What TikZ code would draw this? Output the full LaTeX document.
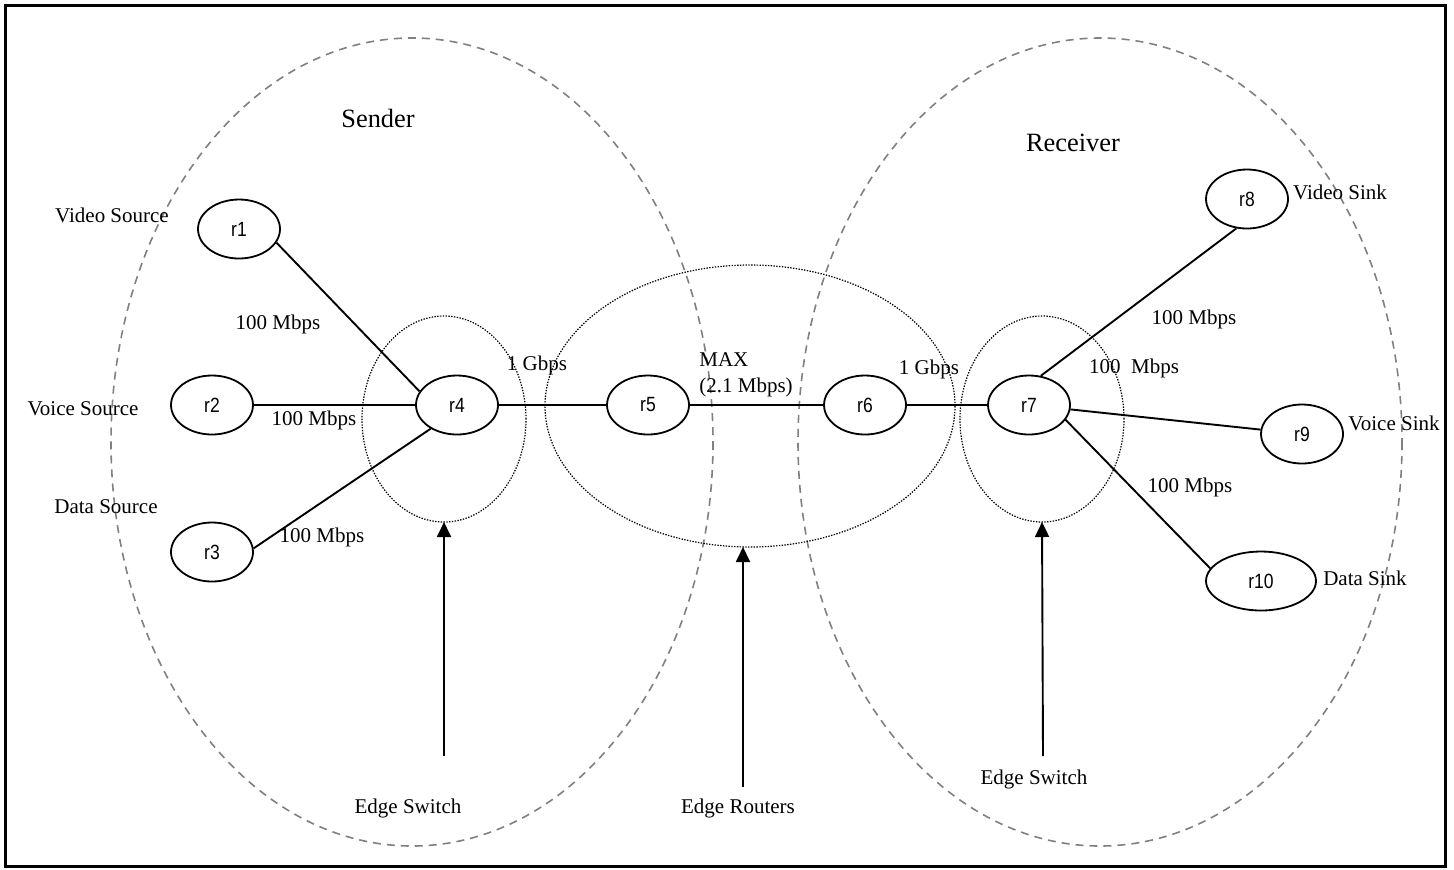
\documentclass[tikz,border=0pt]{standalone}
\usepackage{fontspec}
\setmainfont{Liberation Serif}
\newfontfamily\routerfont[FakeStretch=0.85]{Liberation Sans}
\usetikzlibrary{arrows.meta,shapes.geometric}
\tikzset{
  every picture/.style = {
    x = 0.5pt,
    y = -0.5pt,
    >={Triangle[length=7.5pt,width=7pt]},
  }
  ,
  router/.style = {
    ellipse,
    draw,
    line width = 0.9pt,
    font = \routerfont\fontsize{10.3}{12}\selectfont,
    minimum width = 41pt,
    minimum height = 29.5pt,
    inner sep = 0pt
  }
  , % sender and receiver sides
  side/.style = {
    draw = gray,
    line width = 0.8pt,
    dash pattern = on 4pt off 3pt
  }
  , % switch and router groups
  group/.style = {
    ellipse,
    draw,
    line width = 0.6pt,
    dash pattern = on 0.7pt off 0.7pt,
    minimum width = 82pt,
    minimum height = 103pt,
    outer sep = 0pt
  }
  ,
  link/.style = {
    line width = 0.95pt
  }
  , % labels of links and hosts
  label-link/.style = {
    font = \fontsize{10.5}{13}\selectfont,
    inner sep = 0pt
  }
  , % labels of sides
  label-side/.style = {
    font = \fontsize{13.2}{16}\selectfont,
    inner sep = 0pt
  }
}

\begin{document}
\begin{tikzpicture}
\useasboundingbox (0,0) rectangle (1454,869);
\draw[line width=1.5pt] (5,5) rectangle (1445,866);
\draw[side] (412,442) ellipse [x radius=301, y radius=404];
\draw[side] (1100,442) ellipse [x radius=302, y radius=404];
\node[group] (sw1) at (444,419) {};
\node[group, minimum width=205pt, minimum height=141pt] (rt) at (750,406) {};
\node[group] (sw2) at (1042,419) {};
\node[router] (r1) at (239,229) {r1};
\node[router] (r2) at (212,405) {r2};
\node[router] (r3) at (212,552) {r3};
\node[router] (r4) at (457,405) {r4};
\node[router] (r5) at (648,405) {r5};
\node[router] (r6) at (865,405) {r6};
\node[router] (r7) at (1029,405) {r7};
\node[router] (r8) at (1247,199) {r8};
\node[router] (r9) at (1302,434) {r9};
\node[router, minimum width=55pt] (r10) at (1261,581) {r10};
\path (r1.-20) edge[link] (r4.160);
\path (r2) edge[link] (r4);
\path (r3.5) edge[link] (r4.222);
\path (r4) edge[link] (r5);
\path (r5) edge[link] (r6);
\path (r6) edge[link] (r7);
\path (r7.68) edge[link] (r8.250);
\path (r7) edge[link] (r9);
\path (r7.-22) edge[link] (r10.166);
\coordinate (a1) at (444,756);
\coordinate (a2) at (743,787);
\coordinate (a3) at (1043,756);
\draw[->, link] (a1) -- (sw1.south);
\draw[->, link] (a2) -- (a2 |- rt.south);
\draw[->, link] (a3) -- (sw2.south);
\node[label-side] (snd) at (378,118) {Sender};
\node[label-side] (rcv) at (1073,143) {Receiver};
\node[label-link] (vsrc) at (112,215) {Video Source};
\node[label-link] (osrc) at (83,409) {Voice Source};
\node[label-link] (dsrc) at (106,507) {Data Source};
\node[label-link] (vsnk) at (1340,192) {Video Sink};
\node[label-link] (osnk) at (1394,423) {Voice Sink};
\node[label-link] (dsnk) at (1365,578) {Data Sink};
\node[label-link] (l14) at (278,324) {100 Mbps};
\node[label-link] (l24) at (314,420) {100 Mbps};
\node[label-link] (l34) at (322,537) {100 Mbps};
\node[label-link] (l45) at (537,365) {1 Gbps};
\node[label-link, align=left] (l56) at (746,375) {MAX\\(2.1 Mbps)};
\node[label-link] (l67) at (929,369) {1 Gbps};
\node[label-link] (l78) at (1194,319) {100 Mbps};
\node[label-link] (l79) at (1134,368) {100\ \ Mbps};
\node[label-link] (l710) at (1190,487) {100 Mbps};
\node[label-link] (esw1) at (408,808) {Edge Switch};
\node[label-link] (ert) at (738,808) {Edge Routers};
\node[label-link] (esw2) at (1034,779) {Edge Switch};
\end{tikzpicture}
\end{document}
